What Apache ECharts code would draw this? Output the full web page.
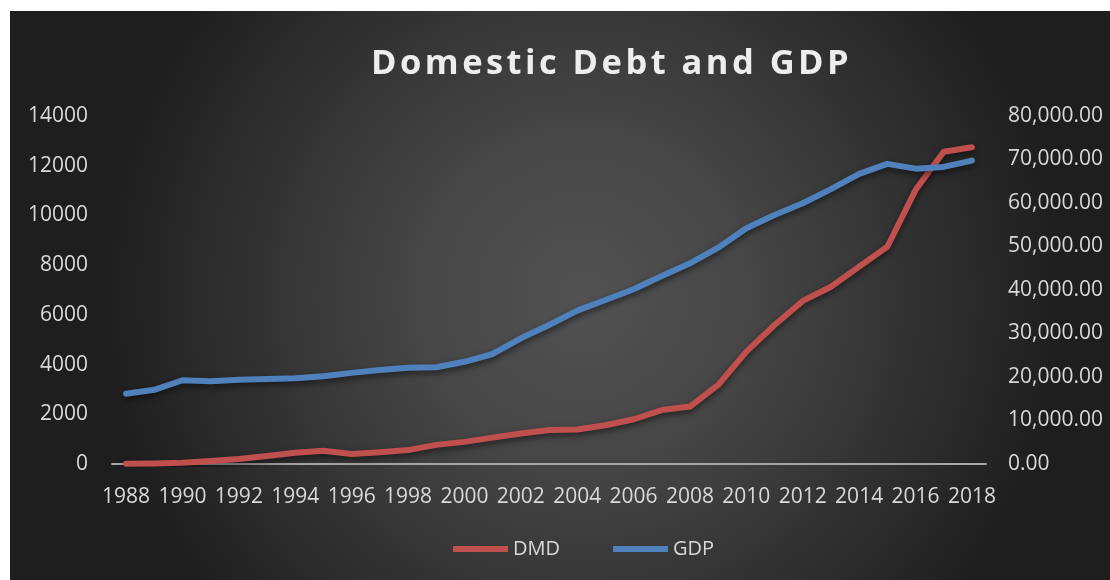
<!DOCTYPE html>
<html>
<head>
<meta charset="utf-8">
<script src="https://cdn.jsdelivr.net/npm/echarts@6/dist/echarts.min.js"></script>
<style>
  html, body { margin: 0; padding: 0; background: #ffffff; }
  #chart { position: absolute; left: 10px; top: 11px; width: 1100px; height: 569px; }
</style>
</head>
<body>
<div id="chart"></div>
<script>
// years on the x axis
var years = [];
for (var y = 1988; y <= 2018; y++) years.push(String(y));

// domestic debt (left axis)
var dmd = [15, 25, 55, 120, 200, 320, 450, 530, 400, 470, 560, 770, 890, 1060, 1230,
  1370, 1390, 1560, 1800, 2170, 2310, 3180, 4520, 5590, 6560, 7130, 7940, 8740,
  11020, 12560, 12740];

// GDP (right axis)
var gdp = [16150, 17050, 19250, 19000, 19350, 19550, 19700, 20150, 20950, 21600, 22150,
  22250, 23500, 25290, 28900, 31960, 35250, 37700, 40160, 43220, 46140, 49730, 54190,
  57250, 59950, 63200, 66700, 69000, 67900, 68300, 69750];

var titleText = 'Domestic Debt and GDP';
var textColor = '#d9d9d9';
var font = '"Open Sans", "Noto Sans", sans-serif';

// spread the title letters a bit, like the original
var spacedTitle = titleText.split('').join('\u200A');

var chart = echarts.init(document.getElementById('chart'));
chart.setOption({
  backgroundColor: {
    type: 'radial', x: 0.52, y: 0.5, r: 0.85,
    colorStops: [
      { offset: 0, color: '#525252' },
      { offset: 0.35, color: '#464646' },
      { offset: 1, color: '#1e1e1e' }
    ]
  },
  textStyle: { fontFamily: font },
  title: {
    text: spacedTitle,
    left: 356,
    top: 31,
    textStyle: { color: '#ededed', fontSize: 34.5, fontWeight: 'bold', fontFamily: font }
  },
  legend: {
    bottom: 16,
    left: 438,
    itemWidth: 55,
    itemHeight: 6,
    itemGap: 53,
    icon: 'rect',
    textStyle: { color: textColor, fontSize: 20, fontFamily: font },
    data: ['DMD', 'GDP']
  },
  grid: { left: 102, right: 124, top: 105, bottom: 116 },
  xAxis: {
    type: 'category',
    data: years,
    boundaryGap: true,
    axisLine: { lineStyle: { color: '#a6a6a6', width: 2 } },
    axisTick: { show: false },
    axisLabel: { color: textColor, fontSize: 21, interval: 1, margin: 23 }
  },
  yAxis: [
    {
      type: 'value', min: 0, max: 14000, interval: 2000,
      axisLine: { show: false }, axisTick: { show: false },
      splitLine: { show: false },
      axisLabel: { color: textColor, fontSize: 21, margin: 24, formatter: function (v) { return String(v); } }
    },
    {
      type: 'value', min: 0, max: 80000, interval: 10000,
      axisLine: { show: false }, axisTick: { show: false },
      splitLine: { show: false },
      axisLabel: {
        color: textColor, fontSize: 21, margin: 22,
        formatter: function (v) {
          return v.toLocaleString('en-US', { minimumFractionDigits: 2, maximumFractionDigits: 2 });
        }
      }
    }
  ],
  series: [
    {
      name: 'DMD', type: 'line', yAxisIndex: 0, data: dmd,
      symbol: 'none', color: '#c0504d',
      lineStyle: {
        width: 6, color: '#c0504d', cap: 'round', join: 'round',
        shadowColor: 'rgba(0,0,0,0.55)', shadowBlur: 6, shadowOffsetY: 3
      }
    },
    {
      name: 'GDP', type: 'line', yAxisIndex: 1, data: gdp,
      symbol: 'none', color: '#4f81bd',
      lineStyle: {
        width: 6, color: '#4f81bd', cap: 'round', join: 'round',
        shadowColor: 'rgba(0,0,0,0.55)', shadowBlur: 6, shadowOffsetY: 3
      }
    }
  ]
});
</script>
</body>
</html>
